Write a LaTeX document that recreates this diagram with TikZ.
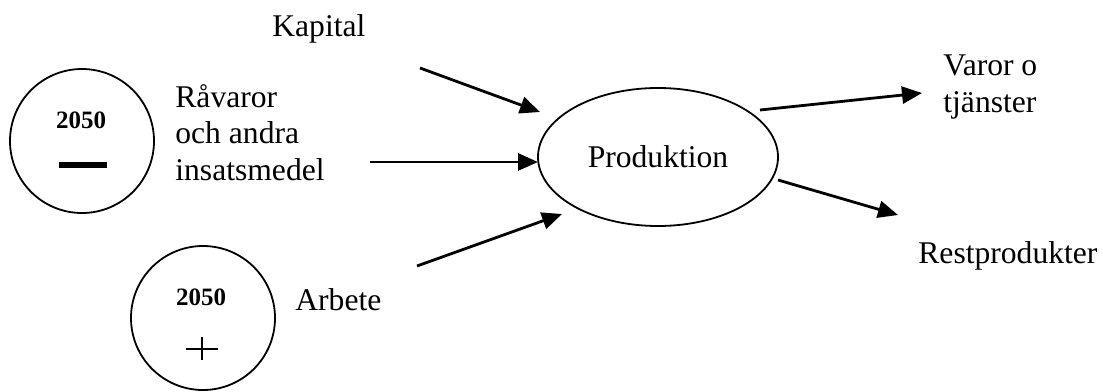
\documentclass[tikz,border=0pt]{standalone}
\usepackage{fontspec}
\setmainfont{Liberation Serif}
\usetikzlibrary{arrows.meta,shapes.geometric}

\begin{document}
\begin{tikzpicture}[x=0.5pt,y=-0.5pt,
	flow/.style = {-{Triangle[length=10pt,width=8.5pt]}, line width=1.4pt},
	year node/.style = {circle,draw,line width=0.9pt,minimum size=72pt,inner sep=0pt},
	label node/.style = {anchor=base west,inner sep=0pt,align=left,
		font=\fontsize{15.8}{18.2}\selectfont}]
	\useasboundingbox (0,0) rectangle (1103,391);

	% the two 2050 circles
	\node[year node] (c1) at (82,141) {};
	\node[year node] (c2) at (203,318) {};
	\node[anchor=base,inner sep=0pt,font=\fontsize{12.5}{14}\selectfont\bfseries] (y1) at (81,128) {2050};
	\node[anchor=base,inner sep=0pt,font=\fontsize{12.5}{14}\selectfont\bfseries] (y2) at (201,305) {2050};
	\node[fill,minimum width=24pt,minimum height=3pt,inner sep=0pt] (minus) at (83,165) {};
	\node[inner sep=0pt] (plus) at (202,349) {};
	\draw[line width=1.3pt] ([xshift=-8pt]plus.center) -- ([xshift=8pt]plus.center)
		([yshift=6pt]plus.center) -- ([yshift=-5.5pt]plus.center);

	% the process
	\node[ellipse,draw,line width=0.9pt,minimum width=120pt,minimum height=69pt,inner sep=0pt,
		font=\fontsize{15.8}{18.2}\selectfont] (prod) at (658,157) {Produktion};

	% labels (base = last line)
	\node[label node] (kap) at (272,36) {Kapital};
	\node[label node] (rav) at (175,180) {Råvaror\\och andra\\insatsmedel};
	\node[label node] (arb) at (295,310) {Arbete};
	\node[label node] (var) at (943,112) {Varor o\\tjänster};
	\node[label node] (rest) at (918,263) {Restprodukter};

	% arrow ends
	\coordinate (kap in) at (420,68);
	\coordinate (kap out) at (540,112);
	\coordinate (rav in) at (370,162);
	\coordinate (rav out) at (538,162);
	\coordinate (arb in) at (417,266);
	\coordinate (arb out) at (562,214);
	\coordinate (var in) at (760,110);
	\coordinate (var out) at (922,93);
	\coordinate (rest in) at (778,180);
	\coordinate (rest out) at (898,215);

	\draw[flow] (kap in) -- (kap out);
	\draw[flow] (rav in) -- (rav out);
	\draw[flow] (arb in) -- (arb out);
	\draw[flow] (var in) -- (var out);
	\draw[flow] (rest in) -- (rest out);
\end{tikzpicture}
\end{document}
